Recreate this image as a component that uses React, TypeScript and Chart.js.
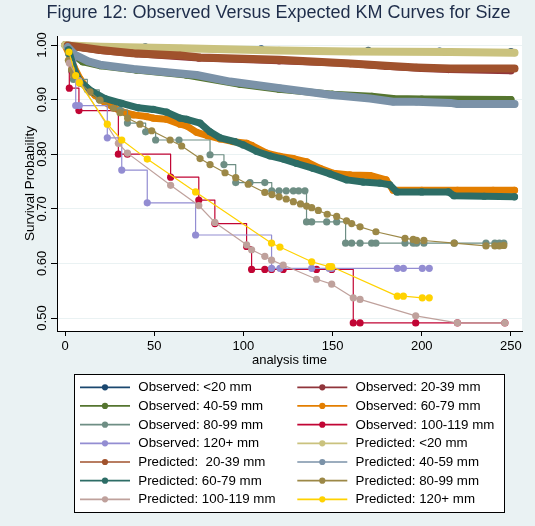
import { useEffect, useRef } from "react";
import { Chart, registerables } from "chart.js";
Chart.register(...registerables);

type P = [number, number];

const titleText = "Figure 12: Observed Versus Expected KM Curves for Size";
const xTitle = "analysis time";
const yTitle = "Survival Probability";
const xTicks = [0, 50, 100, 150, 200, 250];
const yTicks = [0.5, 0.6, 0.7, 0.8, 0.9, 1.0];

const seriesNames = [
  "Observed: <20 mm", "Observed: 20-39 mm", "Observed: 40-59 mm", "Observed: 60-79 mm",
  "Observed: 80-99 mm", "Observed: 100-119 mm", "Observed: 120+ mm",
  "Predicted: <20 mm", "Predicted:  20-39 mm", "Predicted: 40-59 mm", "Predicted: 60-79 mm",
  "Predicted: 80-99 mm", "Predicted: 100-119 mm", "Predicted: 120+ mm",
];

// Observed KM
const obsLt20: P[] = [[0, 1], [45, 0.9965], [110, 0.993], [170, 0.99], [210, 0.989], [250, 0.988]];
const obs20to39: P[] = [[0, 1], [2, 0.998], [10, 0.995], [20, 0.99], [40, 0.984], [75, 0.976], [120, 0.971], [160, 0.966], [180, 0.961], [200, 0.957], [215, 0.955], [250, 0.953]];
const obs40to59: P[] = [[0, 1], [2, 0.995], [5, 0.981], [10, 0.969], [20, 0.962], [40, 0.954], [68, 0.945], [98, 0.928], [120, 0.919], [150, 0.91], [172, 0.906], [184, 0.902], [200, 0.901], [250, 0.9]];
const obs60to79: P[] = [[0, 1], [2, 0.985], [5, 0.96], [8.4, 0.938], [12, 0.922], [16.8, 0.908], [22, 0.896], [27, 0.886], [31.8, 0.878], [38.3, 0.872], [45.8, 0.869], [49.5, 0.866], [57, 0.864], [64.5, 0.855], [68.2, 0.852], [73.8, 0.84], [80, 0.834], [87, 0.828], [94.3, 0.823], [101.8, 0.82], [104.6, 0.816], [113, 0.802], [120.5, 0.796], [128, 0.792], [135.5, 0.786], [142.9, 0.774], [150.4, 0.765], [159.8, 0.762], [171, 0.761], [180, 0.753], [184, 0.734], [200, 0.734], [220, 0.734], [240, 0.734], [252, 0.734]];
const obs80to99: P[] = [[0, 1], [2, 0.984], [3.7, 0.953], [4.7, 0.937], [12.5, 0.918], [19.2, 0.9], [30.8, 0.881], [35, 0.857], [45.2, 0.841], [50.8, 0.826], [63.9, 0.826], [81.3, 0.799], [89.1, 0.781], [95.7, 0.748], [103.7, 0.748], [112, 0.748], [115.9, 0.733], [120, 0.733], [124, 0.733], [128, 0.733], [131, 0.733], [134.5, 0.733], [135.4, 0.676], [138.3, 0.676], [146.7, 0.676], [152.3, 0.676], [157.3, 0.637], [160.7, 0.637], [165.4, 0.637], [171.9, 0.637], [174.3, 0.637], [190.6, 0.637], [195.2, 0.637], [197.1, 0.637], [201.2, 0.637], [218.2, 0.637], [236, 0.637], [241, 0.637], [243.5, 0.637], [246, 0.637]];
const obs100to119: P[] = [[0, 1], [2.4, 0.921], [7.8, 0.88], [29.9, 0.8], [35, 0.8], [59.2, 0.758], [75, 0.716], [84, 0.673], [101.8, 0.631], [104.6, 0.589], [112, 0.589], [115.8, 0.589], [122.3, 0.589], [141, 0.589], [149.5, 0.589], [161.6, 0.491], [165.4, 0.491], [196.6, 0.491], [220, 0.491], [246.6, 0.491]];
const obs120plus: P[] = [[0, 1], [2.2, 1], [6, 0.889], [8, 0.889], [23.7, 0.83], [31.8, 0.771], [46.1, 0.711], [73.2, 0.652], [115.8, 0.591], [120.5, 0.591], [138.3, 0.591], [148, 0.591], [149.5, 0.591], [186.3, 0.591], [189.7, 0.591], [200.3, 0.591], [204.2, 0.591]];

// Predicted curves
const predLt20: P[] = [[0, 1], [2, 0.999], [20, 0.997], [65, 0.994], [120, 0.99], [160, 0.988], [216, 0.987], [252, 0.986]];
const pred20to39: P[] = [[1.5, 0.999], [20, 0.991], [38, 0.985], [64.5, 0.981], [76, 0.977], [120, 0.973], [160, 0.966], [180, 0.962], [197, 0.959], [216, 0.957], [252, 0.957]];
const pred40to59: P[] = [[1.5, 0.996], [5.6, 0.982], [13, 0.97], [19.6, 0.964], [38.3, 0.956], [57, 0.95], [73.8, 0.945], [92.5, 0.933], [120.5, 0.921], [148.5, 0.909], [171, 0.902], [184, 0.896], [197, 0.896], [216, 0.894], [220, 0.892], [252, 0.892]];
const pred60to79: P[] = [[1.9, 0.991], [5.6, 0.951], [8.4, 0.933], [15, 0.915], [22.4, 0.902], [31.8, 0.893], [41.1, 0.885], [49.5, 0.882], [57, 0.877], [64.5, 0.866], [68.2, 0.864], [75.7, 0.857], [81.3, 0.841], [86.9, 0.83], [95.3, 0.823], [100, 0.817], [107.5, 0.805], [114.9, 0.797], [122.4, 0.791], [129.9, 0.783], [139.2, 0.774], [148.5, 0.764], [157.9, 0.753], [167.2, 0.749], [176.6, 0.747], [182, 0.744], [186, 0.731], [200, 0.731], [215, 0.731], [218, 0.724], [235, 0.723], [252, 0.722]];
const pred80to99: P[] = [[1.9, 0.972], [3.7, 0.955], [4.7, 0.945], [8.4, 0.93], [14, 0.914], [19.6, 0.899], [27.1, 0.884], [30.8, 0.876], [35.1, 0.866], [42, 0.855], [48.6, 0.843], [58.9, 0.826], [65.4, 0.815], [75.7, 0.792], [81.3, 0.781], [89.7, 0.766], [95.7, 0.757], [102.7, 0.745], [112, 0.73], [116, 0.726], [120, 0.722], [124, 0.718], [128, 0.713], [132, 0.709], [135.4, 0.705], [138.3, 0.702], [142, 0.697], [147, 0.69], [152.3, 0.686], [157.8, 0.678], [160.7, 0.673], [165.4, 0.667], [174.3, 0.658], [190.6, 0.646], [195.2, 0.644], [197.1, 0.642], [201.2, 0.642], [218.2, 0.637], [236, 0.632], [241, 0.632], [243.5, 0.632], [246, 0.633]];
const pred100to119: P[] = [[2.4, 0.967], [7.8, 0.935], [29.9, 0.82], [35, 0.802], [59.2, 0.743], [75, 0.706], [84, 0.675], [101.8, 0.634], [104.6, 0.625], [112, 0.613], [115.8, 0.606], [122.3, 0.597], [141, 0.571], [149.5, 0.562], [161.6, 0.537], [165.4, 0.534], [196.6, 0.504], [220, 0.491], [246.6, 0.491]];
const pred120plus: P[] = [[2.2, 0.987], [6, 0.944], [8, 0.931], [23.7, 0.855], [31.8, 0.826], [46.1, 0.791], [73.2, 0.731], [115.8, 0.637], [120.5, 0.63], [138.3, 0.603], [148, 0.594], [149.5, 0.594], [186.3, 0.54], [189.7, 0.54], [200.3, 0.537], [204.2, 0.537]];

const seriesData: P[][] = [
  obsLt20, obs20to39, obs40to59, obs60to79, obs80to99, obs100to119, obs120plus,
  predLt20, pred20to39, pred40to59, pred60to79, pred80to99, pred100to119, pred120plus,
];

// styles
const colors = [
  "#1a476f", "#90353b", "#55752f", "#e37e00", "#6e8e84", "#c10534", "#938dd2",
  "#cac27e", "#a0522d", "#7b92a8", "#2d6d66", "#9c8847", "#bfa19c", "#ffd200",
];
// dense groups (many tiny steps) drawn as a band; 0 = thin line
const bandWidth = [0, 7, 7, 7, 0, 0, 0, 8, 8, 8, 7, 0, 0, 0];

const FONT = "'Liberation Sans', Arial, sans-serif";

const decor = {
  id: "decor",
  beforeDraw(chart: any) {
    const { ctx, chartArea: a, width, height } = chart;
    ctx.save();
    ctx.fillStyle = "#eaf2f3";
    ctx.fillRect(0, 0, width, height);
    ctx.fillStyle = "#ffffff";
    ctx.fillRect(a.left, a.top, a.right - a.left, a.bottom - a.top);
    ctx.restore();
  },
  afterDraw(chart: any) {
    const { ctx, chartArea: a } = chart;
    const ys = chart.scales.y;
    ctx.save();
    ctx.fillStyle = "#1e2d4a";
    ctx.font = `18px ${FONT}`;
    ctx.textAlign = "center";
    ctx.textBaseline = "alphabetic";
    ctx.fillText(titleText, 278.5, 18);
    ctx.fillStyle = "#000";
    ctx.font = `13px ${FONT}`;
    for (const v of yTicks) {
      const y = ys.getPixelForValue(v);
      ctx.save();
      ctx.translate(45.5, y);
      ctx.rotate(-Math.PI / 2);
      ctx.textAlign = "center";
      ctx.textBaseline = "alphabetic";
      ctx.fillText(v.toFixed(2), 0, 0);
      ctx.restore();
    }
    ctx.save();
    ctx.font = `13.5px ${FONT}`;
    ctx.translate(34, (a.top + a.bottom) / 2);
    ctx.rotate(-Math.PI / 2);
    ctx.textAlign = "center";
    ctx.textBaseline = "alphabetic";
    ctx.fillText(yTitle, 0, 0);
    ctx.restore();
    ctx.font = `13px ${FONT}`;
    ctx.textAlign = "center";
    ctx.textBaseline = "alphabetic";
    ctx.fillText(xTitle, (a.left + a.right) / 2, 364);
    // legend
    const lx = 74, ly = 374, lw = 430, lh = 138;
    ctx.fillStyle = "#fff";
    ctx.fillRect(lx, ly, lw, lh);
    ctx.strokeStyle = "#000";
    ctx.lineWidth = 1;
    ctx.strokeRect(lx + 0.5, ly + 0.5, lw, lh);
    ctx.font = `13.3px ${FONT}`;
    ctx.textAlign = "left";
    ctx.textBaseline = "middle";
    seriesNames.forEach((name, i) => {
      const row = Math.floor(i / 2);
      const col = i % 2;
      const y = 387.3 + row * 18.67;
      const x0 = col === 0 ? 80 : 297.3;
      ctx.strokeStyle = colors[i];
      ctx.lineWidth = 1.7;
      ctx.beginPath();
      ctx.moveTo(x0, y);
      ctx.lineTo(x0 + 50, y);
      ctx.stroke();
      ctx.fillStyle = colors[i];
      ctx.beginPath();
      ctx.arc(x0 + 25, y, 3.1, 0, Math.PI * 2);
      ctx.fill();
      ctx.fillStyle = "#000";
      ctx.fillText(name, x0 + 58.3, y + 0.5);
    });
    ctx.restore();
  },
};

export default function App() {
  const ref = useRef<HTMLCanvasElement>(null);
  useEffect(() => {
    const n = seriesData.length;
    const datasets = seriesData.map((pts, i) => ({
      label: seriesNames[i],
      data: pts.map(([x, y]) => ({ x, y })),
      borderColor: colors[i],
      backgroundColor: colors[i],
      pointBackgroundColor: colors[i],
      pointBorderWidth: 0,
      pointRadius: 3.6,
      borderWidth: bandWidth[i] > 0 ? bandWidth[i] : 1.2,
      borderJoinStyle: "round" as const,
      borderCapStyle: "round" as const,
      stepped: i < 7 && bandWidth[i] === 0 ? true : false,
      tension: 0,
      fill: false,
      order: n - i,
    }));
    const chart = new Chart(ref.current!, {
      type: "line",
      data: { datasets },
      plugins: [decor],
      options: {
        animation: false,
        responsive: false,
        events: [],
        layout: { padding: { left: 0, top: 36, right: 13, bottom: 0 } },
        plugins: { legend: { display: false }, title: { display: false }, tooltip: { enabled: false } },
        scales: {
          x: {
            type: "linear",
            min: -4.5,
            max: 256.2,
            afterFit: (s: any) => { s.height = 195; },
            afterBuildTicks: (s: any) => { s.ticks = xTicks.map((v) => ({ value: v })); },
            grid: { drawOnChartArea: false, drawTicks: true, tickLength: 5, tickColor: "#000" },
            border: { display: true, color: "#000", width: 1 },
            ticks: { color: "#000", font: { family: FONT, size: 13 }, padding: 3, maxRotation: 0, minRotation: 0 },
          },
          y: {
            type: "linear",
            min: 0.4762,
            max: 1.0165,
            afterFit: (s: any) => { s.width = 57; },
            afterBuildTicks: (s: any) => { s.ticks = yTicks.map((v) => ({ value: v })); },
            grid: { color: "#eaf2f3", lineWidth: 1, drawTicks: true, tickLength: 6, tickColor: "#000" },
            border: { display: true, color: "#000", width: 1 },
            ticks: { display: false },
          },
        },
      },
    } as any);
    return () => chart.destroy();
  }, []);
  return (
    <div style={{ position: "fixed", left: 0, top: 0, width: 535, height: 526 }}>
      <canvas ref={ref} width={535} height={526} style={{ display: "block", width: 535, height: 526 }} />
    </div>
  );
}
